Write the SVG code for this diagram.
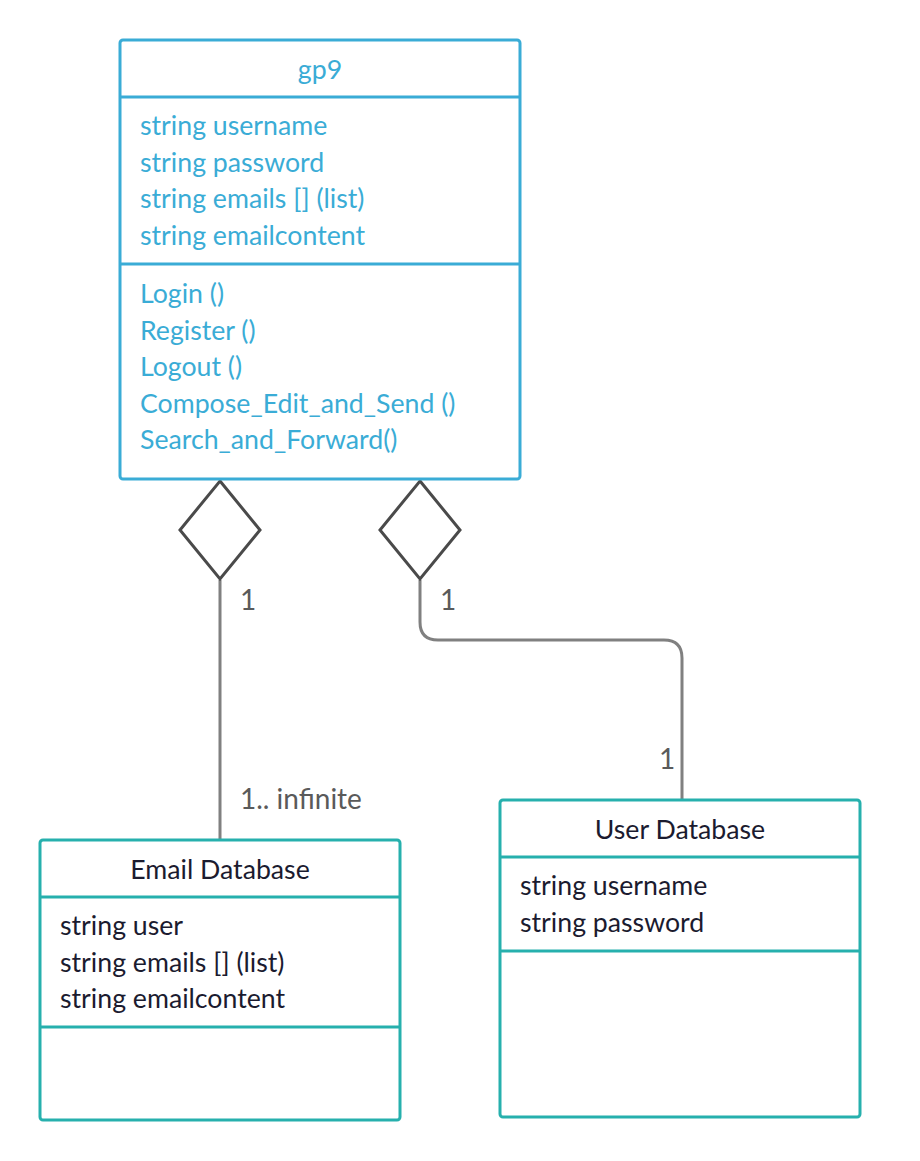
<svg xmlns="http://www.w3.org/2000/svg" width="920" height="1161" viewBox="0 0 920 1161">
<style>
.t{font-family:Lato,"Open Sans","Liberation Sans",sans-serif;font-size:26.7px}
.blue{fill:#3aacd6}
.dark{fill:#1b1b2f}
.lbl{font-family:Lato,"Open Sans","Liberation Sans",sans-serif;font-size:28px;fill:#5a5a5a}
.bbox{fill:#fff;stroke:#3aacd6;stroke-width:3}
.bline{stroke:#3aacd6;stroke-width:3}
.tbox{fill:#fff;stroke:#26b0ad;stroke-width:3}
.tline{stroke:#26b0ad;stroke-width:3}
.conn{fill:none;stroke:#808080;stroke-width:3}
.dia{fill:#fff;stroke:#4a4a4a;stroke-width:3;stroke-linejoin:miter}
</style>
<rect width="920" height="1161" fill="#fff"/>
<g id="connectors">
<path class="conn" d="M220 580 V840"/>
<path class="conn" d="M420 580 V622 Q420 640 438 640 H664 Q682 640 682 658 V800"/>
<path class="dia" d="M220 481 L260 530 L220 579 L180 530 Z"/>
<path class="dia" d="M420 481 L460 530 L420 579 L380 530 Z"/>
<text class="lbl" x="240" y="610">1</text>
<text class="lbl" x="440" y="610">1</text>
<text class="lbl" x="659" y="769">1</text>
<text class="lbl" x="240" y="809">1.. infinite</text>
</g>
<g id="gp9">
<rect class="bbox" x="120" y="40" width="400" height="439" rx="3"/>
<line class="bline" x1="120" y1="97" x2="520" y2="97"/>
<line class="bline" x1="120" y1="264" x2="520" y2="264"/>
<text class="t blue" x="320" y="79" text-anchor="middle">gp9</text>
<text class="t blue" x="140" y="135">string username</text>
<text class="t blue" x="140" y="172">string password</text>
<text class="t blue" x="140" y="208">string emails [] (list)</text>
<text class="t blue" x="140" y="245">string emailcontent</text>
<text class="t blue" x="140" y="303">Login ()</text>
<text class="t blue" x="140" y="340">Register ()</text>
<text class="t blue" x="140" y="376">Logout ()</text>
<text class="t blue" x="140" y="413">Compose_Edit_and_Send ()</text>
<text class="t blue" x="140" y="449">Search_and_Forward()</text>
</g>
<g id="email-database">
<rect class="tbox" x="40" y="840" width="360" height="280" rx="3"/>
<line class="tline" x1="40" y1="897" x2="400" y2="897"/>
<line class="tline" x1="40" y1="1027" x2="400" y2="1027"/>
<text class="t dark" x="220" y="879" text-anchor="middle">Email Database</text>
<text class="t dark" x="60" y="935">string user</text>
<text class="t dark" x="60" y="972">string emails [] (list)</text>
<text class="t dark" x="60" y="1008">string emailcontent</text>
</g>
<g id="user-database">
<rect class="tbox" x="500" y="800" width="360" height="317" rx="3"/>
<line class="tline" x1="500" y1="857" x2="860" y2="857"/>
<line class="tline" x1="500" y1="951" x2="860" y2="951"/>
<text class="t dark" x="680" y="839" text-anchor="middle">User Database</text>
<text class="t dark" x="520" y="895">string username</text>
<text class="t dark" x="520" y="932">string password</text>
</g>
</svg>
